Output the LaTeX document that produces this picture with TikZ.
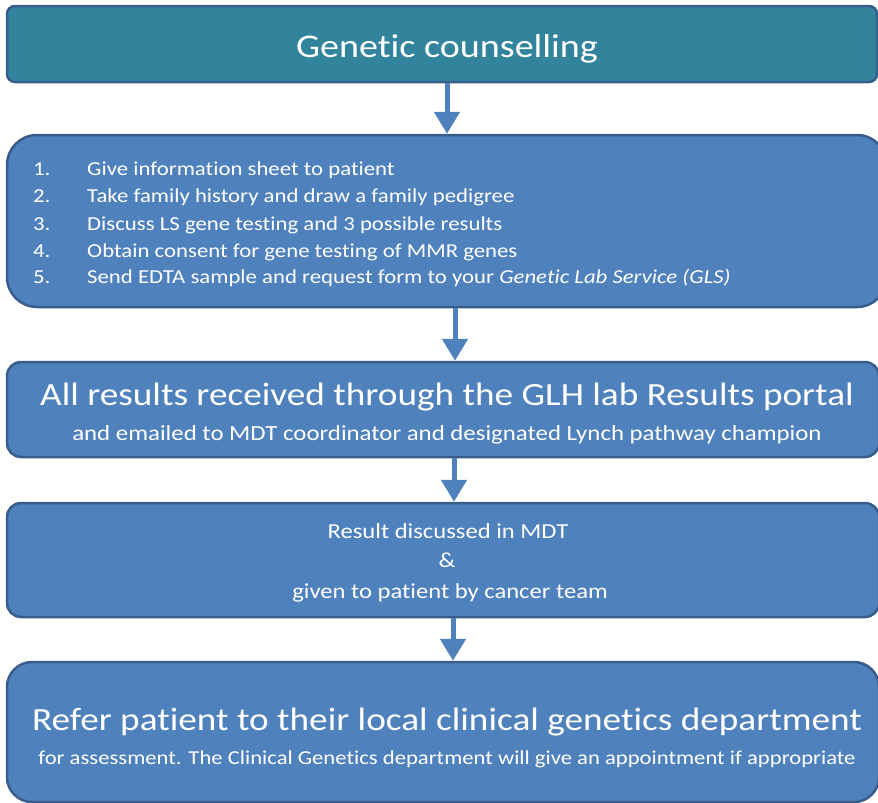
\documentclass[tikz,border=0pt]{standalone}
\usepackage{fontspec}
\setmainfont{Carlito}[FakeStretch=1.15,Ligatures=NoCommon]
\usetikzlibrary{arrows.meta}
\definecolor{tealfill}{HTML}{31849B}
\definecolor{bluefill}{HTML}{4F81BD}
\definecolor{edgeblue}{HTML}{385D8A}
\newcommand{\fs}[1]{\fontsize{#1}{#1}\selectfont}
\begin{document}
\begin{tikzpicture}[x=1pt,y=-1pt,
  box/.style={draw=edgeblue,line width=2.5pt,rectangle,inner sep=0pt},
  txt/.style={text=white,inner sep=0pt},
  flow/.style={draw=bluefill,line width=5pt,-{Triangle[width=25pt,length=22pt]}}]
\useasboundingbox (0,0) rectangle (878,803);
% boxes
\node[box,fill=tealfill,rounded corners=8pt,minimum width=870pt,minimum height=76pt] (b1) at (442,44) {};
\node[box,fill=bluefill,rounded corners=30pt,minimum width=880pt,minimum height=172pt] (b2) at (447,221) {};
\node[box,fill=bluefill,rounded corners=14pt,minimum width=872pt,minimum height=95pt] (b3) at (443,409.5) {};
\node[box,fill=bluefill,rounded corners=14pt,minimum width=872pt,minimum height=114pt] (b4) at (443,560) {};
\node[box,fill=bluefill,rounded corners=25pt,minimum width=872pt,minimum height=140pt] (b5) at (443,732) {};
% connectors
\coordinate (c1) at (447,0);
\coordinate (c2) at (455,0);
\coordinate (c3) at (454,0);
\coordinate (c4) at (453,0);
\draw[flow] (b1.south -| c1) -- (b2.north -| c1);
\draw[flow] (b2.south -| c2) -- (b3.north -| c2);
\draw[flow] (b3.south -| c3) -- (b4.north -| c3);
\draw[flow] (b4.south -| c4) -- (b5.north -| c4);
% texts
\node[txt,anchor=base] (t1) at (447,57) {\fs{33.1}Genetic counselling};
\node[txt,anchor=base west] (l1) at (33,175) {\fs{19.8}\makebox[54pt][l]{1.}Give information sheet to patient};
\node[txt,anchor=base west] (l2) at (33,202) {\fs{19.8}\makebox[54pt][l]{2.}Take family history and draw a family pedigree};
\node[txt,anchor=base west] (l3) at (33,230) {\fs{19.8}\makebox[54pt][l]{3.}Discuss LS gene testing and 3 possible results};
\node[txt,anchor=base west] (l4) at (33,257) {\fs{19.8}\makebox[54pt][l]{4.}Obtain consent for gene testing of MMR genes};
\node[txt,anchor=base west] (l5) at (33,283) {\fs{19.8}\makebox[54pt][l]{5.}Send EDTA sample and request form to your \textit{Genetic Lab Service (GLS)}};
\node[txt,anchor=base] (t3a) at (447,405) {\fs{32.4}All results received through the GLH lab Results portal};
\node[txt,anchor=base] (t3b) at (447,440) {\fs{21.6}and emailed to MDT coordinator and designated Lynch pathway champion};
\node[txt,anchor=base] (t4a) at (448,538) {\fs{21.4}Result discussed in MDT};
\node[txt,anchor=base] (t4b) at (447,567) {\fs{21.4}\&};
\node[txt,anchor=base] (t4c) at (450,598) {\fs{21.4}given to patient by cancer team};
\node[txt,anchor=base] (t5a) at (447,730) {\fs{32.4}Refer patient to their local clinical genetics department};
\node[txt,anchor=base] (t5b) at (447,764) {\fs{19.7}for assessment. The Clinical Genetics department will give an appointment if appropriate};
\end{tikzpicture}
\end{document}
